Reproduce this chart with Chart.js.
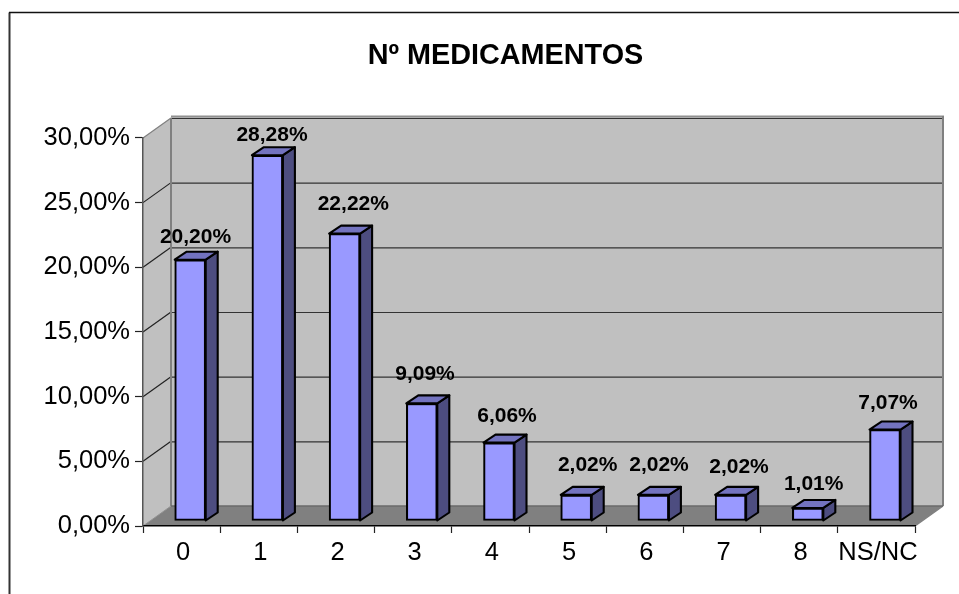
<!DOCTYPE html>
<html>
<head>
<meta charset="utf-8">
<title>Nº MEDICAMENTOS</title>
<script src="https://cdn.jsdelivr.net/npm/chart.js@4/dist/chart.umd.min.js"></script>
<style>
    html, body { margin: 0; padding: 0; background: #fff; overflow: hidden; }
    #wrap { width: 959px; height: 594px; }
    canvas { display: block; }
</style>
</head>
<body>
<div id="wrap"><canvas id="chart"></canvas></div>
<script>
// --- Data ---
const chartTitle = 'Nº MEDICAMENTOS';
const categories = ['0', '1', '2', '3', '4', '5', '6', '7', '8', 'NS/NC'];
const percentages = [20.20, 28.28, 22.22, 9.09, 6.06, 2.02, 2.02, 2.02, 1.01, 7.07];

const FONT = '"Liberation Sans", Arial, sans-serif';
const fmt = v => v.toFixed(2).replace('.', ',') + '%';

// fake 3D: depth of the box and of the bars
const WALL_DX = 28, WALL_DY = 20;
const BAR_DX = 12, BAR_DY = 8;
const BAR_SHIFT_X = 8.6, BAR_SHIFT_Y = -5;
const BAR_LINE = 2.1;

// the original placed each data label by hand, relative to its bar top
const LABEL_NUDGE_X = [5.3, 4.6, 8.7, 3.2, 8, 11.5, 5.6, 8.4, 5.9, 3];
const LABEL_NUDGE_Y = [-23, -20.5, -29.2, -29, -26.4, -29.4, -29.4, -27.4, -23.6, -26.4];

function line(ctx, x1, y1, x2, y2, color, width) {
    ctx.strokeStyle = color;
    ctx.lineWidth = width;
    ctx.beginPath();
    ctx.moveTo(x1, y1);
    ctx.lineTo(x2, y2);
    ctx.stroke();
}

function poly(ctx, pts, fill, stroke, width) {
    ctx.beginPath();
    pts.forEach((p, i) => i ? ctx.lineTo(p[0], p[1]) : ctx.moveTo(p[0], p[1]));
    ctx.closePath();
    ctx.fillStyle = fill;
    ctx.fill();
    if (stroke) {
        ctx.strokeStyle = stroke;
        ctx.lineWidth = width;
        ctx.lineJoin = 'round';
        ctx.stroke();
    }
}

// outer frame + walls + floor, goes under everything
const boxPlugin = {
    id: 'box',
    afterLayout(chart) {
        // title is centred off the padding, labels need the room left of it
        chart.scales.y.left = 30;
    },
    beforeDraw(chart) {
        const { ctx, chartArea: a, scales } = chart;
        const bx = a.left + WALL_DX, by = a.top - WALL_DY;
        const rx = a.right + WALL_DX, fy = a.bottom - WALL_DY;
        ctx.save();
        ctx.fillStyle = '#fff';
        ctx.fillRect(0, 0, chart.width, chart.height);

        // frame
        line(ctx, 9.5, 12.5, 9.5, chart.height, '#333', 2);
        line(ctx, 9, 12.5, chart.width, 12.5, '#111', 1.5);

        // side wall, back wall, floor
        poly(ctx, [[a.left, a.top], [bx, by], [bx, fy], [a.left, a.bottom]], '#c0c0c0');
        poly(ctx, [[bx, by], [rx, by], [rx, fy], [bx, fy]], '#c0c0c0');
        poly(ctx, [[a.left, a.bottom], [bx, fy], [rx, fy], [a.right, a.bottom]], '#808080');

        // gridlines from the value scale
        scales.y.ticks.forEach(t => {
            const y = scales.y.getPixelForValue(t.value);
            if (t.value > 0) {
                line(ctx, bx, y - WALL_DY + 0.5, rx, y - WALL_DY + 0.5, '#333', 1.2);
                line(ctx, a.left, y, bx, y - WALL_DY, t.value === 30 ? '#808080' : '#222', 1.2);
            }
        });

        // wall edges
        line(ctx, bx, by - 1.5, rx + 1, by - 1.5, '#909090', 2);
        line(ctx, bx, by, bx, fy, '#808080', 2);
        line(ctx, rx, by - 2, rx, fy, '#808080', 2);
        line(ctx, a.right, a.bottom, rx, fy, '#808080', 1.5);
        line(ctx, bx, fy, rx, fy, '#6a6a6a', 1.5);
        line(ctx, a.left, a.bottom, bx, fy, '#909090', 1);
        ctx.restore();
    }
};

// shifts the real bars into the box and adds their top and side faces
const barsPlugin = {
    id: 'bars3d',
    beforeDatasetDraw(chart) {
        chart.ctx.save();
        chart.ctx.translate(BAR_SHIFT_X, BAR_SHIFT_Y);
    },
    afterDatasetDraw(chart, args) {
        const ctx = chart.ctx;
        args.meta.data.forEach(bar => {
            const l = bar.x - bar.width / 2, r = bar.x + bar.width / 2;
            const t = bar.y, b = bar.base;
            poly(ctx, [[r, t], [r + BAR_DX, t - BAR_DY], [r + BAR_DX, b - BAR_DY], [r, b]], '#4d4d80', '#000', BAR_LINE);
            poly(ctx, [[l, t], [l + BAR_DX, t - BAR_DY], [r + BAR_DX, t - BAR_DY], [r, t]], '#7373bf', '#000', BAR_LINE);
        });
        ctx.restore();
    },
    afterDatasetsDraw(chart) {
        const ctx = chart.ctx;
        ctx.save();
        ctx.font = 'bold 21px ' + FONT;
        ctx.fillStyle = '#000';
        ctx.textAlign = 'center';
        ctx.textBaseline = 'middle';
        chart.getDatasetMeta(0).data.forEach((bar, i) => {
            ctx.fillText(fmt(percentages[i]),
                bar.x + BAR_SHIFT_X + LABEL_NUDGE_X[i],
                bar.y + BAR_SHIFT_Y + LABEL_NUDGE_Y[i]);
        });
        ctx.restore();
    }
};

new Chart(document.getElementById('chart'), {
    type: 'bar',
    data: {
        labels: categories,
        datasets: [{
            data: percentages,
            backgroundColor: '#9999ff',
            borderColor: '#000',
            borderWidth: BAR_LINE,
            borderSkipped: false,
            barThickness: 31,
            clip: false
        }]
    },
    options: {
        responsive: true,
        maintainAspectRatio: false,
        animation: false,
        events: [],
        layout: { padding: { left: 96, right: 44, top: 0, bottom: 0 } },
        plugins: {
            legend: { display: false },
            tooltip: { enabled: false },
            title: {
                display: true,
                text: chartTitle,
                color: '#000',
                font: { family: FONT, size: 28.8, weight: 'bold', lineHeight: 1.2 },
                padding: { top: 39, bottom: 64.4 }
            }
        },
        scales: {
            x: {
                border: { color: '#000', width: 1.5 },
                grid: { drawOnChartArea: false, color: '#222', tickLength: 7, tickWidth: 1.2 },
                ticks: { color: '#000', font: { family: FONT, size: 25.5 }, padding: 5, labelOffset: 1.5, maxRotation: 0, autoSkip: false },
                afterFit(scale) { scale.height = 68; }
            },
            y: {
                min: 0,
                max: 30,
                border: { color: '#555', width: 1.5 },
                grid: { drawOnChartArea: false, color: '#222', tickLength: 8, tickWidth: 1.2 },
                ticks: { stepSize: 5, color: '#000', font: { family: FONT, size: 25.5 }, padding: 5, callback: v => fmt(v) },
                afterFit(scale) { scale.width = 47; }
            }
        }
    },
    plugins: [boxPlugin, barsPlugin]
});
</script>
</body>
</html>
